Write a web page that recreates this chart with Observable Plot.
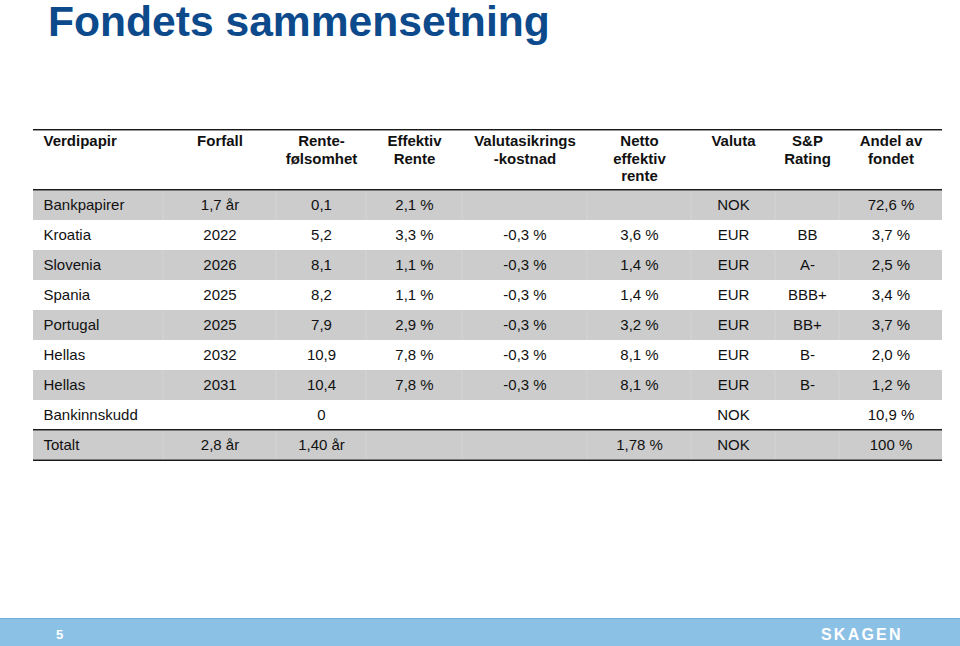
<!DOCTYPE html>
<html>
<head>
<meta charset="utf-8">
<script src="https://cdn.jsdelivr.net/npm/d3@7"></script>
<script src="https://cdn.jsdelivr.net/npm/@observablehq/plot@0.6"></script>
<style>
  html, body { margin: 0; padding: 0; background: #fff; width: 960px; height: 646px; overflow: hidden; }
  body { font-family: "Liberation Sans", Arial, sans-serif; }
  #title { height: 60px; position: relative; }
  #title h1 { margin: 0; font: bold 42.6px/43px "Liberation Sans", Arial, sans-serif; color: #0c4a8c; padding-left: 48px; position: relative; top: 0px; white-space: nowrap; }
  #chart svg { display: block; }
  #footer { height: 28px; box-sizing: border-box; background: #8cc1e6; border-top: 1px solid #74aedb; position: relative; color: #fff; }
  #footer .page { position: absolute; left: 56px; top: 9px; font: bold 13px/13px "Liberation Sans", Arial, sans-serif; }
  #footer .logo { position: absolute; left: 821px; top: 8px; font: bold 16px/16px "Liberation Sans", Arial, sans-serif; letter-spacing: 2.2px; }
</style>
</head>
<body>
<div id="title"><h1>Fondets sammensetning</h1></div>
<div id="chart"></div>
<div id="footer"><span class="page">5</span><span class="logo">SKAGEN</span></div>
<script>
// ---- Data ----
const headers = ["Verdipapir", "Forfall", "Rente-\nfølsomhet", "Effektiv\nRente", "Valutasikrings\n-kostnad", "Netto\neffektiv\nrente", "Valuta", "S&P\nRating", "Andel av\nfondet"];
const verdipapir = ["Bankpapirer", "Kroatia", "Slovenia", "Spania", "Portugal", "Hellas", "Hellas", "Bankinnskudd", "Totalt"];
const forfall = ["1,7 år", "2022", "2026", "2025", "2025", "2032", "2031", "", "2,8 år"];
const renteFolsomhet = ["0,1", "5,2", "8,1", "8,2", "7,9", "10,9", "10,4", "0", "1,40 år"];
const effektivRente = ["2,1 %", "3,3 %", "1,1 %", "1,1 %", "2,9 %", "7,8 %", "7,8 %", "", ""];
const valutasikring = ["", "-0,3 %", "-0,3 %", "-0,3 %", "-0,3 %", "-0,3 %", "-0,3 %", "", ""];
const nettoRente = ["", "3,6 %", "1,4 %", "1,4 %", "3,2 %", "8,1 %", "8,1 %", "", "1,78 %"];
const valuta = ["NOK", "EUR", "EUR", "EUR", "EUR", "EUR", "EUR", "NOK", "NOK"];
const rating = ["", "BB", "A-", "BBB+", "BB+", "B-", "B-", "", ""];
const andel = ["72,6 %", "3,7 %", "2,5 %", "3,4 %", "3,7 %", "2,0 %", "1,2 %", "10,9 %", "100 %"];

// ---- Layout (table geometry, not data) ----
const colWidths = [130, 113, 90, 96, 125, 104, 84, 64, 103];
const columns = [verdipapir, forfall, renteFolsomhet, effektivRente, valutasikring, nettoRente, valuta, rating, andel];
const edges = [0, ...d3.cumsum(colWidths)];
const W = edges[edges.length - 1];
const center = (c) => (edges[c] + edges[c + 1]) / 2;
const nRows = verdipapir.length;
const rowIdx = d3.range(nRows);
const yDomain = ["h1", "h2", ...rowIdx];
const yRange = [67, 403];
const bw = (yRange[1] - yRange[0]) / yDomain.length;
const greyRows = rowIdx.filter(i => i % 2 === 0);
const totalRow = nRows - 1;

const cells = [];
columns.forEach((col, c) => col.forEach((v, r) => { if (v !== "") cells.push({c, r, v}); }));
const firstCells = cells.filter(d => d.c === 0);
const otherCells = cells.filter(d => d.c !== 0);
const headerFirst = [{c: 0, h: headers[0]}];
const headerOther = headers.slice(1).map((h, i) => ({c: i + 1, h}));
const seps = [];
greyRows.forEach(r => edges.slice(1, -1).forEach(x => seps.push({r, x})));
const rulesTop = ["h1", 0, totalRow];

const textBase = {fontSize: 15, fill: "#111"};

const chart = Plot.plot({
  width: 960,
  height: 558,
  margin: 0,
  x: {type: "linear", domain: [0, W], range: [33, 942], axis: null},
  y: {type: "band", domain: yDomain, range: yRange, padding: 0, axis: null},
  style: {fontFamily: '"Liberation Sans", Arial, sans-serif', fontSize: "15px", color: "#111", background: "#fff"},
  marks: [
    Plot.barX(greyRows, {x1: 0, x2: W, y: d => d, fill: "#cccccc"}),
    Plot.barX(seps, {x1: d => d.x - 0.5, x2: d => d.x + 0.5, y: "r", fill: "#d3d3d3"}),
    Plot.barX(rulesTop, {x1: 0, x2: W, y: d => d, fill: "#1a1a1a", insetTop: -1, insetBottom: bw - 1}),
    Plot.barX([totalRow], {x1: 0, x2: W, y: d => d, fill: "#1a1a1a", insetTop: bw - 1, insetBottom: -1}),
    Plot.text(headerFirst, {...textBase, x: () => edges[0], y: () => "h1", text: "h", dx: 10, dy: -12,
      textAnchor: "start", lineAnchor: "top", lineHeight: 1.17, fontWeight: "bold"}),
    Plot.text(headerOther, {...textBase, x: d => center(d.c), y: () => "h1", text: "h", dy: -12,
      textAnchor: "middle", lineAnchor: "top", lineHeight: 1.17, fontWeight: "bold"}),
    Plot.text(firstCells, {...textBase, x: () => edges[0], y: "r", text: "v", dx: 10, textAnchor: "start"}),
    Plot.text(otherCells, {...textBase, x: d => center(d.c), y: "r", text: "v", textAnchor: "middle"})
  ]
});
document.getElementById("chart").appendChild(chart);
</script>
</body>
</html>
